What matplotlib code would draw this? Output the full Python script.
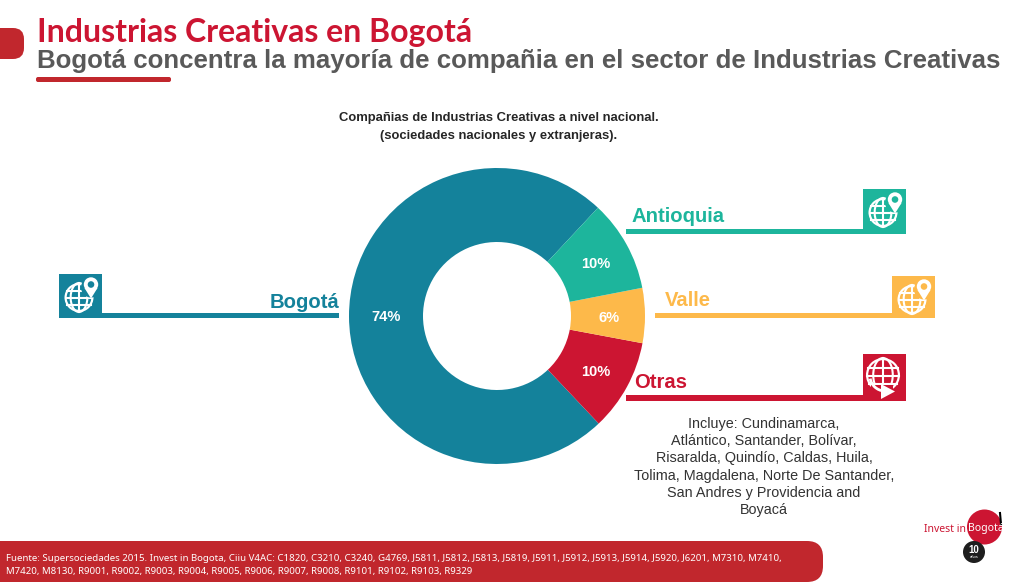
#!/usr/bin/env python3
"""Donut of creative-industry companies by region, with the slide furniture around it."""
import matplotlib
matplotlib.use("Agg")
import matplotlib.pyplot as plt
from matplotlib.patches import Circle, FancyBboxPatch, Polygon, Rectangle, Arc

REGIONS = ["Bogotá", "Otras", "Valle", "Antioquia"]
SHARES = [74, 10, 6, 10]
LABELS = ["74%", "10%", "6%", "10%"]
COLORS = ["#14829B", "#CC1532", "#FDB94A", "#1DB59C"]

TITLE = "Industrias Creativas en Bogotá"
SUBTITLE = "Bogotá concentra la mayoría de compañia en el sector de Industrias Creativas"
HEADING = "Compañias de Industrias Creativas a nivel nacional.\n(sociedades nacionales y extranjeras)."
OTRAS_NOTE = ("Incluye: Cundinamarca,\nAtlántico, Santander, Bolívar,\nRisaralda, Quindío, Caldas, Huila,\n"
              "Tolima, Magdalena, Norte De Santander,\nSan Andres y Providencia and\nBoyacá")
SOURCE = ("Fuente: Supersociedades 2015. Invest in Bogota, Ciiu V4AC: C1820, C3210, C3240, G4769, J5811, J5812, "
          "J5813, J5819, J5911, J5912, J5913, J5914, J5920, J6201, M7310, M7410,\n"
          "M7420, M8130, R9001, R9002, R9003, R9004, R9005, R9006, R9007, R9008, R9101, R9102, R9103, R9329")

W, H = 1024, 585
RED = "#C1272D"
ARIAL = "Liberation Sans"

fig = plt.figure(figsize=(W / 100, H / 100), dpi=100, facecolor="white")

# overlay in pixel coordinates, y pointing down like the slide
bg = fig.add_axes([0, 0, 1, 1])
bg.set_xlim(0, W); bg.set_ylim(H, 0); bg.axis("off")


def pill(x0, y0, x1, y1, color, rad):
    # box hangs off the left edge so only the right corners show round
    bg.add_patch(FancyBboxPatch((x0 + rad, y0 + rad), x1 - x0 - 2 * rad, y1 - y0 - 2 * rad,
                                boxstyle=f"round,pad={rad},rounding_size={rad}",
                                fc=color, ec="none", clip_on=True))


def globe(cx, cy, r, color):
    bg.add_patch(Circle((cx, cy), r, fc="white", ec="none", zorder=4))
    bg.add_patch(Circle((cx, cy), r - 2.2, fc=color, ec="none", zorder=4))
    lw = 1.5
    for dy in (-0.42, 0.05, 0.5):
        half = (1 - dy ** 2) ** 0.5 * (r - 1)
        bg.plot([cx - half, cx + half], [cy + dy * r] * 2, color="white", lw=lw, zorder=5)
    bg.plot([cx, cx], [cy - r, cy + r], color="white", lw=lw, zorder=5)
    bg.add_patch(Arc((cx, cy), r * 1.15, 2 * r, fc="none", ec="white", lw=lw, zorder=5))


def pin_icon(x0, y0, color):
    globe(x0 + 20, y0 + 23.5, 14.5, color)
    px, py = x0 + 32, y0 + 10.5
    # wipe a notch of the globe around the pin
    bg.add_patch(Circle((px, py + 3), 10, fc=color, ec="none", zorder=6))
    bg.add_patch(Polygon([(px - 6.5, py + 3.5), (px + 6.5, py + 3.5), (px, py + 14)],
                         fc="white", ec="none", zorder=6))
    bg.add_patch(Circle((px, py), 7.2, fc="white", ec="none", zorder=6))
    bg.add_patch(Circle((px, py), 3.3, fc=color, ec="none", zorder=7))


def leader(x0, x1, y, box_x0, box_x1, box_y0, color):
    bg.add_patch(Rectangle((x0, y - 2.75), x1 - x0, 5.5, fc=color, ec="none"))
    bg.add_patch(Rectangle((box_x0, box_y0), box_x1 - box_x0, y + 2.75 - box_y0, fc=color, ec="none"))


# header
pill(-30, 28, 24, 59, RED, 11)
bg.text(37, 32.5, TITLE, color="#CC1532", fontsize=23, fontweight="bold", family="Lato",
        ha="left", va="center")
bg.text(37, 61, SUBTITLE, color="#595959", fontsize=18.6, fontweight="bold", family=ARIAL,
        ha="left", va="center")
pill(36, 77, 171, 82, RED, 2)
bg.text(499, 127, HEADING, color="#262626", fontsize=9.33, fontweight="bold", family=ARIAL,
        ha="center", va="center", linespacing=1.65)

# the donut itself
cx, cy, r = 497, 316, 148
pie_ax = fig.add_axes([(cx - r) / W, 1 - (cy + r) / H, 2 * r / W, 2 * r / H])
wedges, _ = pie_ax.pie(SHARES, colors=COLORS, startangle=47, counterclock=True, radius=1,
                       wedgeprops=dict(width=0.5, edgecolor="none"))
pie_ax.set_xlim(-1, 1); pie_ax.set_ylim(-1, 1)

label_pos = [(386, 317), (596, 372.5), (609, 318.5), (596, 264)]
for (lx, ly), lab in zip(label_pos, LABELS):
    bg.text(lx, ly, lab, color="white", fontsize=10.5, fontweight="bold", family=ARIAL,
            ha="center", va="center", zorder=10)
bg.set_zorder(2); bg.patch.set_alpha(0)
pie_ax.set_zorder(1)

# callouts
leader(59, 339, 315.5, 59, 102, 274, COLORS[0])
pin_icon(59, 274, COLORS[0])
bg.text(339, 302.5, REGIONS[0], color=COLORS[0], fontsize=14.6, fontweight="bold", family=ARIAL, ha="right", va="center")

leader(626, 906, 231.5, 863, 906, 189, COLORS[3])
pin_icon(863, 189, COLORS[3])
bg.text(631, 216.5, REGIONS[3], color=COLORS[3], fontsize=14.6, fontweight="bold", family=ARIAL, ha="left", va="center")

leader(655, 935, 315.5, 892, 935, 276, COLORS[2])
pin_icon(892, 276, COLORS[2])
bg.text(665, 300, REGIONS[2], color=COLORS[2], fontsize=14.6, fontweight="bold", family=ARIAL, ha="left", va="center")

leader(626, 906, 398, 863, 906, 354, COLORS[1])
globe(883, 375, 17, COLORS[1])
bg.add_patch(Rectangle((871, 385), 22, 9, fc=COLORS[1], ec="none", zorder=6))
bg.add_patch(Arc((885, 376), 30, 30, theta1=95, theta2=170, ec="white", lw=2, zorder=7))
bg.add_patch(Polygon([(881, 384), (895, 391.5), (881, 399)], fc="white", ec="none", zorder=7))
bg.text(634, 382.5, REGIONS[1], color=COLORS[1], fontsize=14.6, fontweight="bold", family=ARIAL, ha="left", va="center")

bg.text(764, 467, OTRAS_NOTE, color="#333333", fontsize=10.4, family=ARIAL, ha="center", va="center", linespacing=1.29)

# footer bar and logo
pill(-30, 541, 823, 582, RED, 16)
bg.text(6, 565, SOURCE, color="white", fontsize=6.94, family="Noto Sans", ha="left", va="center", linespacing=1.5)

bg.add_patch(Circle((984.5, 527), 17.5, fc="#CC1532", ec="none"))
bg.text(966, 529, "Invest in", color="#CC1532", fontsize=7.5, family="Noto Sans", ha="right", va="center")
bg.text(968, 529, "Bogotá", color="white", fontsize=7.5, family="Noto Sans", ha="left", va="center")
bg.plot([1000, 1001], [513, 524], color="black", lw=1.5)
bg.add_patch(Circle((974, 552), 11, fc="#1E1E1E", ec="none"))
bg.text(974, 550, "10", color="white", fontsize=7, fontweight="bold", family=ARIAL, ha="center", va="center")
bg.text(974, 557.5, "años", color="white", fontsize=3, family=ARIAL, ha="center", va="center")

fig.savefig("out.png", dpi=100, facecolor="white")
